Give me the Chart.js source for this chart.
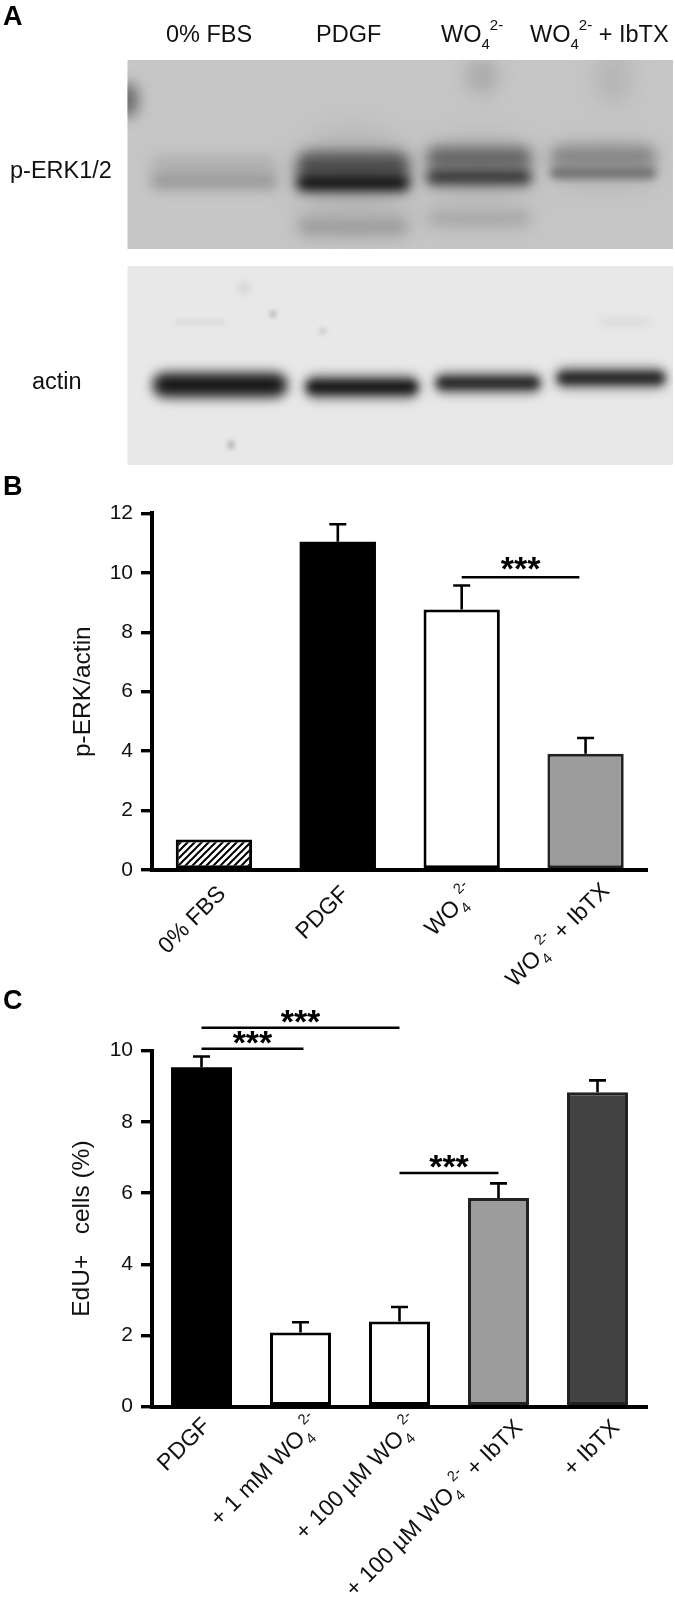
<!DOCTYPE html>
<html>
<head>
<meta charset="utf-8">
<script src="https://cdn.jsdelivr.net/npm/chart.js@4"></script>
<style>
  html, body { margin: 0; background: #fff; }
  body { position: relative; width: 675px; height: 1599px; overflow: hidden; }
  canvas { position: absolute; left: 0; }
  .letter { position: absolute; left: 3px; font: bold 27px "Liberation Sans"; color: #000; line-height: 27px; }
</style>
</head>
<body>
<canvas id="blots" width="675" height="470" style="top:0"></canvas>
<canvas id="chartB" width="675" height="530" style="top:470px"></canvas>
<canvas id="chartC" width="675" height="614" style="top:985px"></canvas>
<div class="letter" style="top:3px">A</div>
<div class="letter" style="top:473px">B</div>
<div class="letter" style="top:987px">C</div>
<script>
const FONT = '"Liberation Sans"'

// panel B
const erkLabels = ['0% FBS', 'PDGF', 'WO_4^2-', 'WO_4^2- + IbTX']
const erkValues = [1.03, 11.04, 8.76, 3.91]
const erkErrors = [null, 11.63, 9.57, 4.44]
const erkSigFrom = [2]
const erkSigTo = [2.95]
const erkSigAt = [9.85]
const erkTicks = [0, 2, 4, 6, 8, 10, 12]

// panel C
const eduLabels = ['PDGF', '+ 1 mM WO_4^2-', '+ 100 µM WO_4^2-', '+ 100 µM WO_4^2- + IbTX', '+ IbTX']
const eduValues = [9.53, 2.08, 2.39, 5.86, 8.83]
const eduErrors = [9.83, 2.37, 2.80, 6.27, 9.16]
const eduSigFrom = [0, 0, 2]
const eduSigTo = [2, 1.03, 3]
const eduSigAt = [10.64, 10.05, 6.56]
const eduTicks = [0, 2, 4, 6, 8, 10]

// 'WO_4^2-' -> text runs with a subscript and a superscript
const toRuns = label => label.split(/(_\d|\^\d-)/).filter(Boolean).map(part => {
  if (part[0] === '_') return { text: part.slice(1), small: true, shift: 7 }
  if (part[0] === '^') return { text: part.slice(1), small: true, shift: -12 }
  return { text: part, small: false, shift: 0 }
})

const runsWidth = (ctx, runs, size) => runs.reduce((sum, r) => {
  ctx.font = `${r.small ? size * 0.64 : size}px ${FONT}`
  return sum + ctx.measureText(r.text).width
}, 0)

const drawRuns = (ctx, runs, x, y, size) => {
  runs.forEach(r => {
    ctx.font = `${r.small ? size * 0.64 : size}px ${FONT}`
    ctx.fillText(r.text, x, y + r.shift)
    x += ctx.measureText(r.text).width
  })
}

const hatch = () => {
  const tile = document.createElement('canvas')
  tile.width = tile.height = 7
  const c = tile.getContext('2d')
  c.fillStyle = '#fff'
  c.fillRect(0, 0, 7, 7)
  c.strokeStyle = '#000'
  c.lineWidth = 2
  c.beginPath()
  c.moveTo(-3.5, 3.5); c.lineTo(3.5, -3.5)
  c.moveTo(0, 7); c.lineTo(7, 0)
  c.moveTo(3.5, 10.5); c.lineTo(10.5, 3.5)
  c.stroke()
  return c.createPattern(tile, 'repeat')
}

const extras = cfg => ({
  id: 'extras',
  afterDraw(chart) {
    const { ctx, scales: { x, y } } = chart
    ctx.save()
    ctx.strokeStyle = '#000'
    ctx.fillStyle = '#000'

    // error bars, upper whisker only
    ctx.lineWidth = 2.6
    cfg.errors.forEach((top, i) => {
      if (top === null) return
      const px = x.getPixelForValue(i)
      ctx.beginPath()
      ctx.moveTo(px, y.getPixelForValue(cfg.values[i]))
      ctx.lineTo(px, y.getPixelForValue(top))
      ctx.moveTo(px - 8.5, y.getPixelForValue(top))
      ctx.lineTo(px + 8.5, y.getPixelForValue(top))
      ctx.stroke()
    })

    // significance lines and stars
    cfg.sigAt.forEach((at, i) => {
      const a = x.getPixelForValue(cfg.sigFrom[i])
      const b = x.getPixelForValue(cfg.sigTo[i])
      const py = y.getPixelForValue(at)
      ctx.lineWidth = 2.6
      ctx.beginPath()
      ctx.moveTo(a, py)
      ctx.lineTo(b, py)
      ctx.stroke()
      ctx.font = `bold 34px ${FONT}`
      ctx.textAlign = 'center'
      ctx.textBaseline = 'alphabetic'
      ctx.fillText('***', (a + b) / 2, py + cfg.starDrop)
    })

    // rotated category labels, end anchored under each bar
    ctx.fillStyle = '#111'
    ctx.textAlign = 'left'
    cfg.labels.forEach((label, i) => {
      const runs = toRuns(label)
      ctx.save()
      ctx.translate(x.getPixelForValue(i) + cfg.labelDx[i], y.bottom + cfg.labelDy[i])
      ctx.rotate(-Math.PI / 4)
      drawRuns(ctx, runs, -runsWidth(ctx, runs, cfg.labelSize), 0, cfg.labelSize)
      ctx.restore()
    })
    ctx.restore()
  }
})

const makeChart = (id, cfg) => new Chart(id, {
  type: 'bar',
  data: {
    labels: cfg.labels,
    datasets: [{
      data: cfg.values,
      backgroundColor: cfg.fills,
      borderColor: cfg.edges,
      borderWidth: cfg.edgeWidths,
      borderSkipped: false,
      barPercentage: 0.616,
      categoryPercentage: 1
    }]
  },
  options: {
    responsive: false,
    animation: false,
    layout: { padding: { top: cfg.top, right: cfg.right, left: 0, bottom: 0 } },
    plugins: { legend: { display: false }, tooltip: { enabled: false } },
    scales: {
      x: {
        afterFit: s => { s.height = cfg.xHeight },
        grid: { display: false },
        border: { color: '#000', width: 4, z: 1 },
        ticks: { display: false }
      },
      y: {
        min: 0,
        max: cfg.max,
        afterFit: s => { s.width = 152 },
        afterBuildTicks: s => { s.ticks = cfg.ticks.map(value => ({ value })) },
        grid: { drawOnChartArea: false, color: '#000', lineWidth: 3.4, tickLength: 11 },
        border: { color: '#000', width: 4, z: 1 },
        ticks: { color: '#111', padding: 8, font: { family: FONT, size: 21 } },
        title: {
          display: true,
          text: cfg.title,
          color: '#111',
          padding: { top: cfg.titleInset, bottom: 0 },
          font: { family: FONT, size: cfg.titleSize, weight: 'normal' }
        }
      }
    }
  },
  plugins: [extras(cfg)]
})

makeChart('chartB', {
  labels: erkLabels, values: erkValues, errors: erkErrors,
  sigFrom: erkSigFrom, sigTo: erkSigTo, sigAt: erkSigAt, ticks: erkTicks,
  fills: [hatch(), '#000', '#fff', '#9c9c9c'],
  edges: ['#000', '#000', '#000', '#222'],
  edgeWidths: [3, 0, 3, 3],
  max: 12, top: 43.3, right: 27.5, xHeight: 130,
  title: 'p-ERK/actin', titleSize: 24.5, titleInset: 69,
  labelSize: 23, labelDx: [13, 12, 15, 25], labelDy: [25, 25, 24, 22], starDrop: 3
})

makeChart('chartC', {
  labels: eduLabels, values: eduValues, errors: eduErrors,
  sigFrom: eduSigFrom, sigTo: eduSigTo, sigAt: eduSigAt, ticks: eduTicks,
  fills: ['#000', '#fff', '#fff', '#9c9c9c', '#434343'],
  edges: ['#000', '#000', '#000', '#222', '#222'],
  edgeWidths: [0, 3, 3, 3, 3],
  max: 10, top: 65.5, right: 28, xHeight: 192.3,
  title: 'EdU+   cells (%)', titleSize: 24.5, titleInset: 68,
  labelSize: 23, labelDx: [10, 21, 21, 25, 23], labelDy: [20, 18, 18, 22, 22], starDrop: 5
})

// panel A: photographed blots, painted as soft bands
const blots = document.getElementById('blots').getContext('2d')

const band = (x, y, w, h, shade, blur) => {
  blots.filter = `blur(${blur * 1.4}px)`
  blots.fillStyle = shade
  blots.beginPath()
  blots.roundRect(x, y - h / 2, w, h, h / 2)
  blots.fill()
  blots.filter = 'none'
}

blots.save()
blots.beginPath()
blots.rect(127.5, 60, 545.5, 189)
blots.clip()
blots.fillStyle = '#c6c6c6'
blots.fillRect(127, 60, 546, 189)
// haze around the loaded lanes
band(296, 175, 114, 90, '#b4b4b4', 10)
band(296, 226, 114, 26, '#b0b0b0', 6)
band(426, 170, 106, 70, '#b6b6b6', 10)
band(426, 219, 106, 22, '#b6b6b6', 6)
band(553, 165, 104, 50, '#b8b8b8', 8)
// phospho-ERK doublets
band(150, 165, 128, 20, '#b0b0b0', 5)
band(150, 181, 128, 18, '#9c9c9c', 4)
band(296, 166, 114, 28, '#505050', 5)
band(296, 183, 114, 16, '#0e0e0e', 4)
band(426, 158, 106, 22, '#646464', 5)
band(426, 177, 106, 15, '#303030', 4)
band(550, 157, 106, 22, '#868686', 5)
band(550, 173, 106, 11, '#6c6c6c', 3)
band(300, 226, 106, 12, '#9c9c9c', 4)
band(430, 218, 98, 9, '#a4a4a4', 4)
// smudges
band(116, 100, 22, 34, '#6a6a6a', 5)
band(466, 76, 32, 36, '#a8a8a8', 7)
band(596, 78, 34, 52, '#b4b4b4', 8)
blots.restore()

blots.save()
blots.beginPath()
blots.rect(127.5, 266, 545.5, 199)
blots.clip()
blots.fillStyle = '#e8e8e8'
blots.fillRect(127, 266, 546, 199)
// actin
band(152, 385, 136, 28, '#6d6d6d', 4)
band(156, 385, 128, 14, '#050505', 4)
band(304, 387, 116, 24, '#777777', 4)
band(307, 387, 110, 12, '#101010', 3)
band(434, 383, 108, 21, '#7d7d7d', 4)
band(437, 383, 102, 10, '#181818', 3)
band(555, 378, 112, 21, '#7d7d7d', 4)
band(558, 378, 106, 10, '#161616', 3)
// specks
band(240, 288, 8, 8, '#c0c0c0', 3)
band(270, 314, 6, 6, '#a8a8a8', 2)
band(320, 331, 5, 5, '#b4b4b4', 2)
band(228, 445, 6, 8, '#a8a8a8', 2)
band(175, 322, 50, 3, '#d2d2d2', 2)
band(600, 322, 50, 5, '#d4d4d4', 3)
blots.restore()

blots.fillStyle = '#111'
blots.textBaseline = 'alphabetic'
const caption = (label, x, y) => drawRuns(blots, toRuns(label), x, y, 23.5)
caption('0% FBS', 166, 42)
caption('PDGF', 316, 42)
caption('WO_4^2-', 441, 42)
caption('WO_4^2- + IbTX', 530, 42)
caption('p-ERK1/2', 10, 178)
caption('actin', 32, 389)
</script>
</body>
</html>
